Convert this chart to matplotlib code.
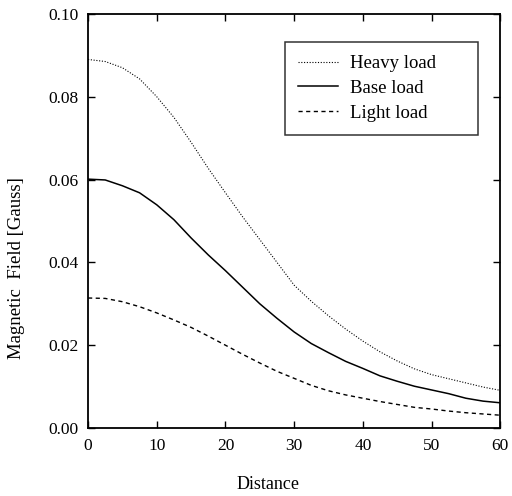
import numpy as np
import matplotlib.pyplot as plt

plt.rcParams['font.family'] = ['Liberation Serif', 'DejaVu Serif']

distance = [0, 2.5, 5, 7.5, 10, 12.5, 15, 17.5, 20, 22.5, 25, 27.5, 30,
            32.5, 35, 37.5, 40, 42.5, 45, 47.5, 50, 52.5, 55, 57.5, 60]
heavy = [0.0890, 0.0885, 0.0870, 0.0843, 0.0800, 0.0750, 0.0690, 0.0627, 0.0568,
         0.0510, 0.0455, 0.0400, 0.0345, 0.0306, 0.0271, 0.0239, 0.0210, 0.0184,
         0.0162, 0.0143, 0.0129, 0.0119, 0.0109, 0.0099, 0.0091]
base = [0.0601, 0.0599, 0.0585, 0.0568, 0.0539, 0.0503, 0.0459, 0.0418, 0.0380,
        0.0340, 0.0300, 0.0265, 0.0232, 0.0204, 0.0182, 0.0161, 0.0144, 0.0126,
        0.0113, 0.0101, 0.0092, 0.0083, 0.0072, 0.0065, 0.0061]
light = [0.0314, 0.0313, 0.0305, 0.0293, 0.0278, 0.0261, 0.0243, 0.0222, 0.0200,
         0.0178, 0.0157, 0.0137, 0.0120, 0.0103, 0.0090, 0.0080, 0.0072, 0.0064,
         0.0057, 0.0050, 0.0046, 0.0041, 0.0037, 0.0034, 0.0031]

xticks = [0, 10, 20, 30, 40, 50, 60]
yticks = [0.00, 0.02, 0.04, 0.06, 0.08, 0.10]
ytick_labels = ['0.00', '0.02', '0.04', '0.06', '0.08', '0.10']

fig = plt.figure(figsize=(5.12, 4.96), dpi=100)
ax = fig.add_axes([0.172, 0.137, 0.805, 0.835])

ax.plot(distance, heavy, color='black', lw=0.8, linestyle=(0, (1, 1.5)), label='Heavy load')
ax.plot(distance, base, color='black', lw=1.1, linestyle='-', label='Base load')
ax.plot(distance, light, color='black', lw=1.0, linestyle=(0, (3, 2.5)), label='Light load')

ax.set_xlim(0, 60)
ax.set_ylim(0, 0.10)
ax.set_xticks(xticks)
ax.set_yticks(yticks)
ax.set_yticklabels(ytick_labels)
ax.tick_params(direction='in', length=5, width=1, top=True, right=True,
               labelsize=12.5, pad=7)
for s in ax.spines.values():
    s.set_linewidth(1.3)

ax.set_xlabel('Distance', fontsize=13)
ax.set_ylabel('Magnetic  Field [Gauss]', fontsize=13.5)
ax.xaxis.set_label_coords(0.437, -0.116)
ax.yaxis.set_label_coords(-0.153, 0.386)

# legend box stretched wider than its entries, like the frame drawn in the paper
leg = ax.legend(loc='upper left', bbox_to_anchor=(0.478, 0.5, 0.469, 0.432),
                mode='expand', fontsize=13.5,
                frameon=True, fancybox=False, edgecolor='black',
                handlelength=2.1, handletextpad=0.65, borderpad=0.7,
                labelspacing=0.4, borderaxespad=0)
leg.get_frame().set_linewidth(1.1)

fig.savefig('out.png', dpi=100)
